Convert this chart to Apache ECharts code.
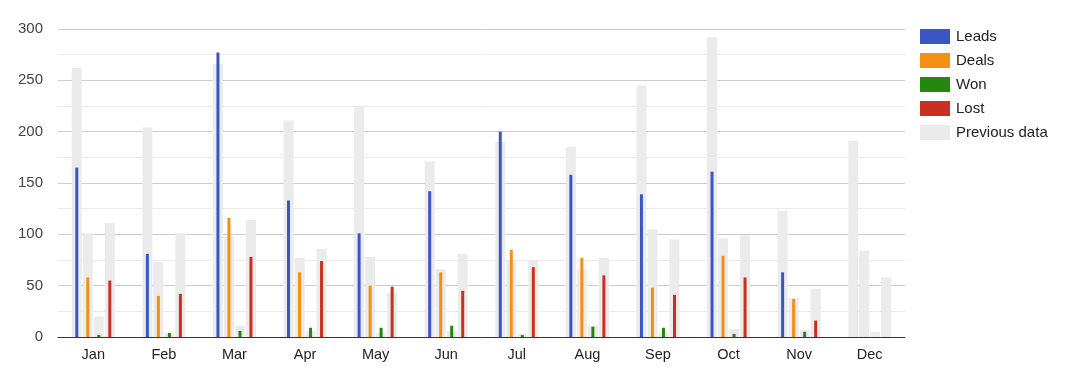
<!DOCTYPE html>
<html>
<head>
<meta charset="utf-8">
<script src="https://cdn.jsdelivr.net/npm/echarts@6/dist/echarts.min.js"></script>
<style>html,body{margin:0;padding:0;background:#fff}#c{width:1068px;height:380px}</style>
</head>
<body>
<div id="c"></div>
<script>
var months = ['Jan','Feb','Mar','Apr','May','Jun','Jul','Aug','Sep','Oct','Nov','Dec'];
var leads = [165, 81, 277, 133, 101, 142, 200, 158, 139, 161, 63, null];
var deals = [58, 40, 116, 63, 50, 63, 85, 77, 48, 79, 37, null];
var won   = [2, 4, 6, 9, 9, 11, 2, 10, 9, 3, 5, null];
var lost  = [55, 42, 78, 74, 49, 45, 68, 60, 41, 58, 16, null];
var prevLeads = [262, 204, 266, 211, 224, 171, 190, 185, 245, 292, 123, 191];
var prevDeals = [101, 73, 98, 77, 78, 66, 75, 66, 105, 96, 38, 84];
var prevWon   = [20, 4, 11, 6, 4, 6, 3, 11, 4, 8, 7, 5];
var prevLost  = [111, 101, 114, 86, 43, 81, 75, 77, 95, 99, 47, 58];
var yTicks = [0, 50, 100, 150, 200, 250, 300];

var colors = {Leads:'#3c55c5', Deals:'#f39014', Won:'#24870e', Lost:'#c9301f', prev:'#ebebeb'};
var font = 'Arial, "Liberation Sans", sans-serif';

function prevSeries(data){
  return {name:'Previous data', type:'bar', xAxisIndex:0, data:data, barWidth:10, barGap:'10%',
    itemStyle:{color:colors.prev}, z:2, silent:true};
}
function curSeries(name, data){
  return {name:name, type:'bar', xAxisIndex:1, data:data, barWidth:3, barGap:'267%',
    itemStyle:{color:colors[name]}, z:3, silent:true};
}

var chart = echarts.init(document.getElementById('c'), null, {renderer:'canvas'});
chart.setOption({
  animation:false,
  textStyle:{fontFamily:font},
  grid:{left:58, right:163, top:29, bottom:43, containLabel:false},
  legend:{
    orient:'vertical', left:920, top:29, padding:0, itemWidth:30, itemHeight:15, itemGap:9,
    icon:'rect', selectedMode:false,
    textStyle:{fontFamily:font, fontSize:15, color:'#222', padding:[0,0,0,1]},
    data:['Leads','Deals','Won','Lost','Previous data']
  },
  xAxis:[
    {type:'category', data:months, axisTick:{show:false},
     axisLine:{show:true, lineStyle:{color:'#333', width:1}},
     axisLabel:{fontFamily:font, fontSize:14.5, color:'#222', margin:10}},
    {type:'category', data:months, show:false}
  ],
  yAxis:{
    type:'value', min:yTicks[0], max:yTicks[yTicks.length-1], interval:50,
    axisLine:{show:false}, axisTick:{show:false},
    axisLabel:{fontFamily:font, fontSize:15, color:'#444', margin:15},
    splitLine:{lineStyle:{color:'#cccccc', width:1}},
    minorTick:{show:false, splitNumber:2},
    minorSplitLine:{show:true, lineStyle:{color:'#ebebeb', width:1}}
  },
  series:[
    prevSeries(prevLeads), prevSeries(prevDeals), prevSeries(prevWon), prevSeries(prevLost),
    curSeries('Leads', leads), curSeries('Deals', deals), curSeries('Won', won), curSeries('Lost', lost)
  ]
});
</script>
</body>
</html>
